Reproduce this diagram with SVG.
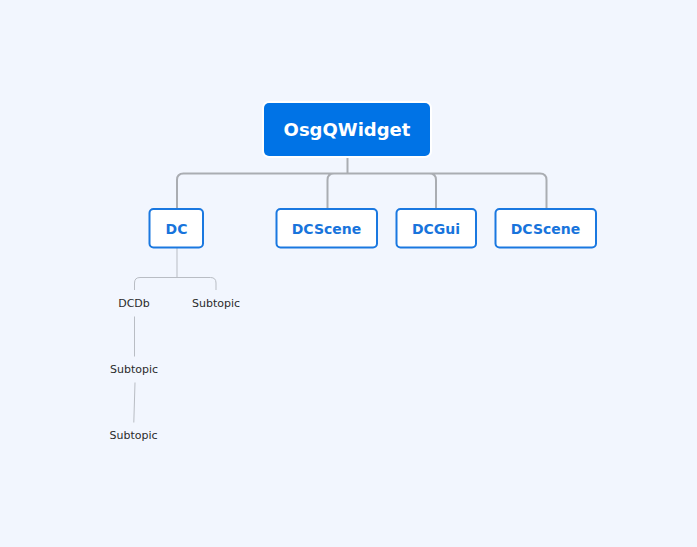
<svg xmlns="http://www.w3.org/2000/svg" width="697" height="547" viewBox="0 0 697 547">
<style>
.main{fill:none;stroke:#aaadb2;stroke-width:2}
.sub{fill:none;stroke:#b9bdc4;stroke-width:1}
.box{fill:#ffffff;stroke:#1a78e0;stroke-width:2}
.lbl{font-family:"DejaVu Sans",Verdana,sans-serif;font-weight:bold;font-size:14px;fill:#1874dc;text-anchor:middle;dominant-baseline:central}
.st{font-family:"DejaVu Sans",Verdana,sans-serif;font-size:11px;fill:#2b2b2b;text-anchor:middle;dominant-baseline:central}
</style>
<rect width="697" height="547" fill="#f2f6fe"/>
<g id="connectors">
<path class="main" d="M347.5 157 V173.5 M177 208 V180 Q177 173.5 183.5 173.5 H540 Q546.5 173.5 546.5 180 V208 M327.5 208 V180 Q327.5 173.5 334 173.5 M436 208 V180 Q436 173.5 429.5 173.5"/>
<path class="sub" d="M177 248 V277.5 M134.5 290 V283 Q134.5 277.5 140 277.5 H210.5 Q216 277.5 216 283 V290 M134.5 316.5 V356.5 M135 382.5 L133.8 422.5"/>
</g>
<g id="root">
<rect x="262" y="101" width="170" height="57" rx="7" fill="#ffffff"/>
<rect x="264" y="103" width="166" height="53" rx="5" fill="#0073e6"/>
<text x="347" y="129.5" class="lbl" style="fill:#ffffff;font-size:18px">OsgQWidget</text>
</g>
<g id="dc">
<rect class="box" x="149.5" y="209" width="53.5" height="38.5" rx="4"/>
<text x="176.5" y="228.5" class="lbl">DC</text>
</g>
<g id="dcscene1">
<rect class="box" x="276.5" y="209" width="100.5" height="38.5" rx="4"/>
<text x="326.5" y="228.5" class="lbl">DCScene</text>
</g>
<g id="dcgui">
<rect class="box" x="396.5" y="209" width="79.5" height="38.5" rx="4"/>
<text x="436" y="228.5" class="lbl">DCGui</text>
</g>
<g id="dcscene2">
<rect class="box" x="495.5" y="209" width="100.5" height="38.5" rx="4"/>
<text x="545.5" y="228.5" class="lbl">DCScene</text>
</g>
<g id="dcdb"><text x="134" y="303" class="st">DCDb</text></g>
<g id="subtopic1"><text x="216" y="303" class="st">Subtopic</text></g>
<g id="subtopic2"><text x="134" y="369" class="st">Subtopic</text></g>
<g id="subtopic3"><text x="133.5" y="435" class="st">Subtopic</text></g>
</svg>
